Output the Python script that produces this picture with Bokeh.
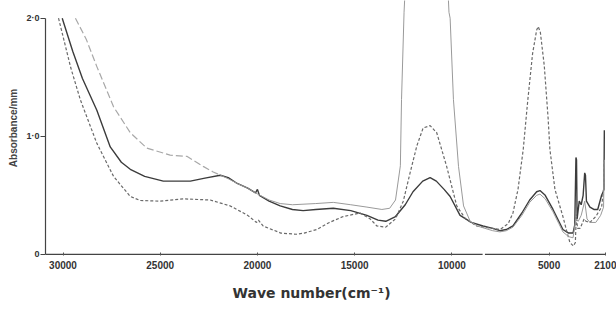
from bokeh.plotting import figure
from bokeh.models import Range1d, FixedTicker, Title
from bokeh.embed import file_html
from bokeh.resources import INLINE

# ---- data (wave number cm^-1, absorbance/mm) ----
a_wn = [30040, 29500, 29000, 28260, 27570, 27000, 26540, 25800, 24840, 23450, 22700, 21910,
        21500, 21040, 20500, 20100, 20000, 19900, 19400, 18830, 18200, 17650, 17000, 16100,
        15200, 14370, 13800, 13400, 12900, 12400, 12000, 11500, 11120, 10800, 10400, 10090,
        9580, 9000, 8400, 7900, 7530, 7200, 6860, 6400, 6000, 5640, 5470, 5200, 4800, 4500,
        4290, 4000, 3770, 3680, 3620, 3590, 3560, 3450, 3350, 3250, 3170, 3130, 3080, 2900,
        2700, 2500, 2300, 2220, 2180, 2160]
a_abs = [2.00, 1.72, 1.49, 1.22, 0.91, 0.78, 0.72, 0.66, 0.62, 0.62, 0.645, 0.67,
         0.65, 0.60, 0.56, 0.52, 0.55, 0.50, 0.45, 0.41, 0.38, 0.37, 0.38, 0.39,
         0.37, 0.33, 0.29, 0.28, 0.32, 0.42, 0.53, 0.62, 0.65, 0.62, 0.55, 0.49,
         0.33, 0.27, 0.24, 0.22, 0.20, 0.21, 0.24, 0.35, 0.46, 0.53, 0.54, 0.50, 0.38, 0.28,
         0.21, 0.18, 0.18, 0.25, 0.82, 0.80, 0.30, 0.45, 0.42, 0.50, 0.69, 0.67, 0.45, 0.40,
         0.38, 0.38, 0.50, 0.53, 0.55, 1.05]

b_wn = [30230, 29600, 29110, 28260, 27400, 26540, 26030, 25000, 23810, 22430, 21400, 20500,
        20050, 19950, 19710, 18800, 18000, 17600, 16950, 16300, 15590, 14720, 14200, 13860,
        13400, 12900, 12500, 12150, 11800, 11480, 11120, 10780, 10270, 9750, 9300, 8730, 8300,
        7530, 7100, 6860, 6600, 6330, 6100, 5850, 5640, 5560, 5450, 5250, 5050, 4960, 4700,
        4290, 4100, 3930, 3750, 3650, 3600, 3540, 3400, 3200, 3100, 2900, 2600, 2300, 2200, 2160]
b_abs = [2.00, 1.58, 1.31, 0.94, 0.66, 0.49, 0.456, 0.45, 0.47, 0.46, 0.41, 0.33,
         0.27, 0.29, 0.24, 0.18, 0.17, 0.18, 0.21, 0.27, 0.32, 0.35, 0.30, 0.24,
         0.23, 0.30, 0.45, 0.69, 0.92, 1.07, 1.09, 1.03, 0.745, 0.41, 0.30, 0.24, 0.23,
         0.21, 0.26, 0.35, 0.55, 0.89, 1.30, 1.70, 1.90, 1.93, 1.88, 1.60, 1.15, 0.89, 0.55,
         0.32, 0.20, 0.10, 0.07, 0.10, 0.34, 0.22, 0.22, 0.30, 0.28, 0.27, 0.32, 0.40, 0.55, 0.80]

c_wn = [29360, 28800, 28260, 27400, 26540, 25690, 24490, 23630, 22790, 22300, 21910, 21500,
        21040, 20500, 20100, 19400, 18830, 18200, 17000, 16100, 15200, 14370, 13600, 13200,
        12900, 12650, 12590, 12460, 12300, 11300, 10300, 10150, 10090, 9920, 9660, 9400,
        9060, 8700, 8300, 7900, 7530, 7200, 6860, 6400, 6000, 5640, 5470, 5200, 4800, 4500,
        4290, 4000, 3770, 3620, 3500, 3350, 3170, 3050, 2900, 2600, 2350, 2200, 2160]
c_abs = [2.00, 1.82, 1.59, 1.25, 1.03, 0.90, 0.84, 0.83, 0.745, 0.70, 0.67, 0.64,
         0.60, 0.56, 0.52, 0.46, 0.43, 0.42, 0.43, 0.44, 0.42, 0.40, 0.38, 0.39,
         0.46, 0.75, 1.31, 2.05, 2.60, 3.50, 2.60, 2.05, 2.00, 1.31, 0.745, 0.41,
         0.28, 0.24, 0.22, 0.20, 0.19, 0.20, 0.23, 0.33, 0.44, 0.50, 0.51, 0.47, 0.36, 0.26,
         0.19, 0.15, 0.14, 0.30, 0.28, 0.33, 0.45, 0.30, 0.27, 0.27, 0.33, 0.40, 0.80]
C_DASHED_ABOVE = 21700  # upper branch of curve C printed dashed

x_ticks = [30000, 25000, 20000, 15000, 10000, 5000, 2100]
x_tick_labels = ["30000", "25000", "20000", "15000", "10000", "5000", "2100"]
y_ticks = [0, 1.0, 2.0]
y_tick_labels = ["0", "1·0", "2·0"]
X_START, X_END = 30900, 2100
AXIS_BREAK = (8420, 8300)

p = figure(width=616, height=320, output_backend="svg", toolbar_location=None,
           x_range=Range1d(X_START, X_END), y_range=Range1d(-0.01, 2.15),
           min_border_left=45, min_border_right=11, min_border_top=0, min_border_bottom=65)
p.outline_line_color = None
p.grid.visible = False
p.background_fill_color = "white"

# curves
p.line(a_wn, a_abs, line_color="#3c3c3c", line_width=1.4)
p.line(b_wn, b_abs, line_color="#6a6a6a", line_width=1.2, line_dash="3 2")
c_up = [(w, a) for w, a in zip(c_wn, c_abs) if w >= C_DASHED_ABOVE]
c_lo = [(w, a) for w, a in zip(c_wn, c_abs) if w <= c_up[-1][0]]
p.line([w for w, _ in c_up], [a for _, a in c_up], line_color="#a8a8a8", line_width=1.2, line_dash="7 3")
p.line([w for w, _ in c_lo], [a for _, a in c_lo], line_color="#9a9a9a", line_width=1.0)

# x axis line with small break
p.segment(x0=[X_START, AXIS_BREAK[1]], y0=[0, 0], x1=[AXIS_BREAK[0], X_END], y1=[0, 0],
          line_color="#444444", line_width=1.2)

xa = p.xaxis[0]
xa.ticker = FixedTicker(ticks=x_ticks)
xa.major_label_overrides = {t: l for t, l in zip(x_ticks, x_tick_labels)}
xa.axis_line_color = None
xa.major_tick_in = 3
xa.major_tick_out = 0
xa.minor_tick_line_color = None
xa.major_tick_line_color = "#555555"
xa.major_label_text_font = "Liberation Sans"
xa.major_label_text_font_style = "bold"
xa.major_label_text_font_size = "10px"
xa.major_label_text_color = "#333333"
xa.major_label_standoff = 5

ya = p.yaxis[0]
ya.ticker = FixedTicker(ticks=y_ticks)
ya.major_label_overrides = {t: l for t, l in zip(y_ticks, y_tick_labels)}
ya.bounds = (0, 2.0)
ya.axis_line_color = "#444444"
ya.axis_line_width = 1.2
ya.major_tick_in = 0
ya.major_tick_out = 5
ya.minor_tick_line_color = None
ya.major_tick_line_color = "#444444"
ya.major_label_text_font = "Liberation Sans"
ya.major_label_text_font_style = "bold"
ya.major_label_text_font_size = "9px"
ya.major_label_text_color = "#333333"
ya.major_label_standoff = 1
ya.axis_label = "Absorbance/mm"
ya.axis_label_text_font = "Liberation Sans"
ya.axis_label_text_font_style = "bold"
ya.axis_label_text_font_size = "10px"
ya.axis_label_text_color = "#444444"
ya.axis_label_standoff = 4

p.add_layout(Title(text="Wave  number(cm⁻¹)", align="left", offset=187, standoff=22,
                   text_font="DejaVu Sans", text_font_size="14px", text_font_style="bold",
                   text_color="#333333"), "below")

open("out.html", "w").write(file_html(p, INLINE))
